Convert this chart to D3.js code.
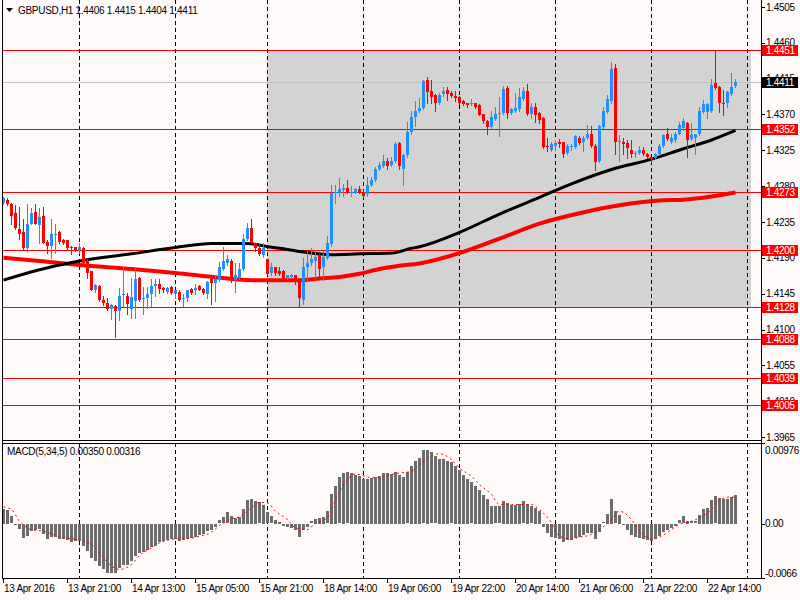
<!DOCTYPE html>
<html><head><meta charset="utf-8">
<script src="https://cdn.jsdelivr.net/npm/d3@7"></script>
<style>
body{margin:0;background:#fffafa;}
svg{display:block;}
text{font-family:"Liberation Sans",Arial,sans-serif;font-size:10px;fill:#000;letter-spacing:-0.3px;}
</style>
</head><body><svg id="c" width="800" height="600"></svg>
<script>
// ---------------- DATA ----------------
const symbolTitle = "GBPUSD,H1";
const lastOHLC = [1.4406, 1.4415, 1.4404, 1.4411];
const macdTitle = "MACD(5,34,5)";
const macdLast = [0.00350, 0.00316];

const opens = [
1.4259,1.4263,1.4258,1.4246,1.4226,1.4223,1.4202,1.4233,1.4247,1.4231,
1.4242,1.4210,1.4205,1.4219,1.4222,1.4213,1.4212,1.4204,1.4203,1.4200,
1.4202,1.4186,1.4173,1.4149,1.4155,1.4137,1.4133,1.4126,1.4130,1.4123,
1.4143,1.4142,1.4126,1.4136,1.4165,1.4139,1.4139,1.4144,1.4155,1.4157,
1.4152,1.4147,1.4154,1.4145,1.4147,1.4139,1.4139,1.4151,1.4150,1.4155,
1.4151,1.4145,1.4164,1.4159,1.4162,1.4176,1.4183,1.4186,1.4162,1.4165,
1.4176,1.4214,1.4228,1.4208,1.4202,1.4194,1.4188,1.4171,1.4178,1.4174,
1.4174,1.4165,1.4166,1.4168,1.4161,1.4137,1.4178,1.4183,1.4186,1.4193,
1.4178,1.4190,1.4207,1.4271,1.4271,1.4275,1.4278,1.4271,1.4272,1.4277,
1.4273,1.4270,1.4282,1.4288,1.4301,1.4305,1.4311,1.4306,1.4311,1.4334,
1.4302,1.4319,1.4348,1.4367,1.4374,1.4378,1.4413,1.4399,1.4394,1.4384,
1.4396,1.4401,1.4397,1.4393,1.4392,1.4387,1.4384,1.4383,1.4384,1.4382,
1.4370,1.4362,1.4354,1.4364,1.4371,1.4372,1.4403,1.4372,1.4374,1.4377,
1.4389,1.4399,1.4370,1.4379,1.4372,1.4365,1.4331,1.4325,1.4330,1.4335,
1.4335,1.4322,1.4329,1.4329,1.4341,1.4335,1.4340,1.4346,1.4331,1.4311,
1.4354,1.4373,1.4387,1.4428,1.4336,1.4336,1.4334,1.4326,1.4321,1.4322,
1.4326,1.4320,1.4316,1.4315,1.4320,1.4330,1.4345,1.4336,1.4338,1.4346,
1.4353,1.4359,1.4339,1.4340,1.4345,1.4373,1.4373,1.4374,1.4409,1.4404,
1.4385,1.4384,1.4396,1.4406];
const highs = [
1.4267,1.4265,1.4259,1.4256,1.4254,1.4239,1.4258,1.4252,1.4258,1.4253,
1.4254,1.4212,1.4239,1.4233,1.4224,1.4214,1.4213,1.4205,1.4204,1.4208,
1.4204,1.4188,1.4174,1.4157,1.4156,1.4142,1.4140,1.4132,1.4131,1.4152,
1.4178,1.4146,1.4165,1.4178,1.4166,1.4154,1.4154,1.4164,1.4164,1.4164,
1.4154,1.4154,1.4155,1.4150,1.4149,1.4145,1.4150,1.4152,1.4157,1.4156,
1.4152,1.4161,1.4165,1.4168,1.4185,1.4203,1.4194,1.4188,1.4183,1.4183,
1.4220,1.4234,1.4239,1.4209,1.4207,1.4208,1.4189,1.4183,1.4179,1.4178,
1.4175,1.4169,1.4170,1.4169,1.4162,1.4190,1.4199,1.4202,1.4200,1.4195,
1.4199,1.4218,1.4282,1.4281,1.4290,1.4283,1.4288,1.4280,1.4278,1.4280,
1.4275,1.4292,1.4292,1.4304,1.4310,1.4319,1.4315,1.4316,1.4336,1.4336,
1.4320,1.4360,1.4375,1.4387,1.4391,1.4413,1.4417,1.4413,1.4396,1.4397,
1.4404,1.4404,1.4399,1.4399,1.4393,1.4388,1.4385,1.4389,1.4385,1.4383,
1.4371,1.4363,1.4374,1.4379,1.4392,1.4406,1.4406,1.4378,1.4397,1.4403,
1.4404,1.4408,1.4385,1.4384,1.4373,1.4367,1.4340,1.4336,1.4338,1.4339,
1.4336,1.4333,1.4333,1.4344,1.4343,1.4343,1.4357,1.4355,1.4333,1.4357,
1.4379,1.4394,1.4436,1.4433,1.4344,1.4341,1.4338,1.4338,1.4324,1.4331,
1.4329,1.4322,1.4317,1.4322,1.4333,1.4346,1.4353,1.4346,1.4348,1.4360,
1.4365,1.4360,1.4359,1.4346,1.4379,1.4388,1.4384,1.4414,1.4450,1.4406,
1.4401,1.4399,1.4422,1.4415];
const lows = [
1.4258,1.4256,1.4233,1.4226,1.4214,1.4200,1.4199,1.4232,1.4232,1.4208,
1.4208,1.4196,1.4190,1.4196,1.4209,1.4207,1.4200,1.4195,1.4199,1.4196,
1.4183,1.4165,1.4149,1.4147,1.4136,1.4131,1.4125,1.4113,1.4090,1.4112,
1.4130,1.4120,1.4115,1.4115,1.4136,1.4120,1.4127,1.4130,1.4142,1.4146,
1.4147,1.4146,1.4145,1.4140,1.4136,1.4130,1.4136,1.4145,1.4145,1.4149,
1.4145,1.4140,1.4132,1.4136,1.4161,1.4175,1.4181,1.4160,1.4147,1.4164,
1.4175,1.4213,1.4208,1.4199,1.4193,1.4191,1.4169,1.4168,1.4168,1.4168,
1.4162,1.4164,1.4165,1.4157,1.4130,1.4132,1.4162,1.4181,1.4165,1.4164,
1.4162,1.4189,1.4205,1.4259,1.4268,1.4268,1.4271,1.4268,1.4271,1.4272,
1.4267,1.4268,1.4280,1.4287,1.4300,1.4304,1.4302,1.4305,1.4310,1.4301,
1.4281,1.4317,1.4346,1.4355,1.4373,1.4377,1.4385,1.4385,1.4374,1.4383,
1.4393,1.4388,1.4392,1.4387,1.4383,1.4382,1.4380,1.4382,1.4378,1.4369,
1.4359,1.4346,1.4353,1.4363,1.4343,1.4370,1.4365,1.4370,1.4373,1.4375,
1.4388,1.4369,1.4365,1.4360,1.4359,1.4328,1.4324,1.4324,1.4325,1.4329,
1.4317,1.4320,1.4325,1.4328,1.4333,1.4324,1.4339,1.4329,1.4300,1.4310,
1.4353,1.4372,1.4385,1.4321,1.4312,1.4321,1.4315,1.4316,1.4316,1.4321,
1.4319,1.4315,1.4310,1.4314,1.4319,1.4329,1.4338,1.4334,1.4336,1.4345,
1.4351,1.4316,1.4338,1.4321,1.4344,1.4372,1.4365,1.4373,1.4402,1.4373,
1.4369,1.4379,1.4394,1.4404];
const closes = [
1.4265,1.4258,1.4242,1.4227,1.4220,1.4202,1.4233,1.4246,1.4233,1.4241,
1.4209,1.4205,1.4220,1.4220,1.4210,1.4209,1.4202,1.4202,1.4200,1.4203,
1.4184,1.4171,1.4150,1.4156,1.4137,1.4133,1.4126,1.4131,1.4123,1.4142,
1.4144,1.4132,1.4141,1.4164,1.4137,1.4140,1.4145,1.4155,1.4157,1.4151,
1.4149,1.4152,1.4146,1.4149,1.4137,1.4140,1.4149,1.4146,1.4152,1.4150,
1.4146,1.4160,1.4159,1.4164,1.4178,1.4186,1.4188,1.4161,1.4168,1.4176,
1.4214,1.4227,1.4209,1.4202,1.4195,1.4202,1.4170,1.4178,1.4171,1.4170,
1.4164,1.4168,1.4169,1.4164,1.4139,1.4179,1.4184,1.4189,1.4191,1.4176,
1.4191,1.4208,1.4272,1.4273,1.4276,1.4278,1.4272,1.4273,1.4276,1.4273,
1.4268,1.4282,1.4288,1.4301,1.4307,1.4312,1.4305,1.4311,1.4333,1.4305,
1.4319,1.4348,1.4367,1.4374,1.4378,1.4412,1.4398,1.4392,1.4384,1.4394,
1.4399,1.4396,1.4393,1.4391,1.4384,1.4383,1.4382,1.4384,1.4379,1.4369,
1.4362,1.4354,1.4367,1.4370,1.4372,1.4402,1.4372,1.4377,1.4378,1.4392,
1.4399,1.4370,1.4379,1.4369,1.4363,1.4329,1.4329,1.4333,1.4334,1.4333,
1.4321,1.4331,1.4331,1.4343,1.4334,1.4341,1.4345,1.4330,1.4310,1.4355,
1.4374,1.4389,1.4427,1.4335,1.4337,1.4333,1.4328,1.4321,1.4322,1.4326,
1.4320,1.4316,1.4314,1.4321,1.4331,1.4344,1.4339,1.4341,1.4346,1.4357,
1.4362,1.4338,1.4344,1.4345,1.4374,1.4383,1.4383,1.4407,1.4403,1.4384,
1.4384,1.4398,1.4404,1.4411];

// moving averages (sampled at bar indices)
const maBlackBars = [0,9,19,32,43,52,61,66,69,74,82,89,97,102,104,114,124,134,142,152,162,170,177,183];
const maBlackVals = [1.4162,1.4175,1.4186,1.4195,1.4203,1.4208,1.4208,1.4204,1.4202,1.4198,1.4194,1.4195,1.4196,1.4202,1.4204,1.4222,1.4245,1.4266,1.4283,1.4301,1.4314,1.4327,1.4338,1.4350];
const maRedBars = [0,9,19,32,43,54,62,66,74,79,84,89,94,99,104,114,124,134,144,154,164,170,177,183];
const maRedVals = [1.4190,1.4186,1.4181,1.4176,1.4171,1.4165,1.4162,1.4162,1.4162,1.4164,1.4166,1.4170,1.4176,1.4180,1.4183,1.4196,1.4214,1.4233,1.4246,1.4256,1.4262,1.4263,1.4267,1.4272];

// MACD histogram per bar
const macdHist = [
0.00181,0.00169,0.00089,-0.00012,-0.00064,-0.00165,-0.00145,-0.00081,-0.00073,-0.00064,
-0.00125,-0.00181,-0.00161,-0.00161,-0.00181,-0.00181,-0.00193,-0.00214,-0.00202,-0.00202,
-0.00266,-0.00322,-0.00407,-0.00443,-0.00504,-0.00548,-0.00588,-0.00588,-0.00588,-0.00536,
-0.00496,-0.00492,-0.00443,-0.00383,-0.00355,-0.00343,-0.00314,-0.00274,-0.00262,-0.00222,
-0.00202,-0.00193,-0.00185,-0.00185,-0.00202,-0.00193,-0.00185,-0.00173,-0.00153,-0.00133,
-0.00125,-0.00081,-0.00073,-0.00040,0.00040,0.00077,0.00137,0.00097,0.00069,0.00081,
0.00181,0.00290,0.00298,0.00278,0.00258,0.00230,0.00137,0.00089,0.00048,0.00020,
-0.00024,-0.00040,-0.00052,-0.00073,-0.00153,-0.00073,-0.00032,0.00028,0.00060,0.00069,
0.00081,0.00149,0.00359,0.00459,0.00560,0.00613,0.00621,0.00613,0.00592,0.00580,
0.00540,0.00540,0.00552,0.00564,0.00580,0.00613,0.00613,0.00600,0.00629,0.00592,
0.00564,0.00621,0.00701,0.00762,0.00794,0.00887,0.00895,0.00866,0.00814,0.00786,
0.00782,0.00762,0.00742,0.00701,0.00653,0.00592,0.00544,0.00500,0.00459,0.00411,
0.00351,0.00298,0.00218,0.00210,0.00210,0.00278,0.00250,0.00230,0.00230,0.00242,
0.00270,0.00242,0.00210,0.00189,0.00157,-0.00040,-0.00105,-0.00153,-0.00165,-0.00185,
-0.00214,-0.00193,-0.00193,-0.00165,-0.00153,-0.00133,-0.00105,-0.00105,-0.00181,-0.00093,
0.00016,0.00121,0.00302,0.00149,0.00109,-0.00012,-0.00073,-0.00133,-0.00161,-0.00173,
-0.00185,-0.00193,-0.00206,-0.00185,-0.00145,-0.00093,-0.00073,-0.00052,-0.00024,0.00040,
0.00089,0.00036,0.00028,0.00028,0.00109,0.00181,0.00189,0.00290,0.00330,0.00310,
0.00298,0.00298,0.00322,0.00350];
const sigBars = [0,2,4,7,10,14,19,22,24,27,29,32,34,37,39,42,44,47,49,52,54,57,59,62,64,66,68,71,73,76,78,81,83,86,88,91,93,96,98,102,104,107,109,112,114,117,119,122,124,127,129,132,134,137,139,142,144,147,149,152,154,157,159,162,164,167,169,172,174,177,179,182,183];
const sigVals = [0.00202,0.00169,0.00028,-0.00073,-0.00093,-0.00161,-0.00202,-0.00254,-0.00355,-0.00516,-0.00556,-0.00496,-0.00387,-0.00294,-0.00234,-0.00193,-0.00185,-0.00177,-0.00153,-0.00105,-0.00024,0.00056,0.00081,0.00189,0.00258,0.00250,0.00149,0.00048,-0.00052,-0.00073,0.00008,0.00069,0.00290,0.00532,0.00600,0.00564,0.00552,0.00580,0.00605,0.00633,0.00713,0.00822,0.00846,0.00774,0.00673,0.00572,0.00472,0.00351,0.00230,0.00230,0.00230,0.00230,0.00169,0.00008,-0.00153,-0.00185,-0.00165,-0.00133,-0.00073,0.00048,0.00149,0.00048,-0.00093,-0.00185,-0.00165,-0.00073,-0.00012,0.00028,0.00069,0.00169,0.00290,0.00322,0.00316];

// horizontal levels, zone, axis ticks
const levels = [1.4451, 1.4352, 1.4273, 1.4200, 1.4128, 1.4088, 1.4039, 1.4005];
const zoneBars = [66, 187];
const zonePrices = [1.4451, 1.4128];
const priceTicks = [1.4505,1.4460,1.4415,1.4370,1.4325,1.4280,1.4235,1.4190,1.4145,1.4100,1.4055,1.4010,1.3965];
const macdTicks = [0.00976, 0.00, -0.0066];
const macdTickLabels = ["0.00976", "0.00", "-0.0066"];
const gridBars = [19, 43, 66, 90, 114, 138, 162, 186];
const timeBars = [0,16,32,48,64,80,96,112,128,144,160,176];
const timeLabels = ["13 Apr 2016","13 Apr 21:00","14 Apr 13:00","15 Apr 05:00","15 Apr 21:00","18 Apr 14:00","19 Apr 06:00","19 Apr 22:00","20 Apr 14:00","21 Apr 06:00","21 Apr 22:00","22 Apr 14:00"];

// ---------------- DRAW ----------------
const svg = d3.select("#c");
const BG = "#fffafa", BULL = "#1e90ff", BEAR = "#ff0000";
const PL = 2, PR = 761, MT = 0, MB = 440, ST = 443, SB = 578;

const x = d3.scaleLinear().domain([0, 186]).range([3, 747]);
const y = d3.scaleLinear().domain([1.3965, 1.4505]).range([437, 7]);
const ym = d3.scaleLinear().domain([-0.0066, 0.00976]).range([SB, ST]);

svg.append("rect").attr("width", 800).attr("height", 600).attr("fill", BG);

const defs = svg.append("defs");
defs.append("clipPath").attr("id", "cm").append("rect").attr("x", PL+1).attr("y", MT).attr("width", PR-PL-1).attr("height", MB-MT);
defs.append("clipPath").attr("id", "cs").append("rect").attr("x", PL+1).attr("y", ST+1).attr("width", PR-PL-1).attr("height", SB-ST-1);

const gm = svg.append("g").attr("clip-path", "url(#cm)");
const gs = svg.append("g").attr("clip-path", "url(#cs)");

// zone rectangle
gm.append("rect")
  .attr("x", x(zoneBars[0])).attr("width", x(zoneBars[1]) - x(zoneBars[0]))
  .attr("y", Math.round(y(zonePrices[0]))).attr("height", Math.round(y(zonePrices[1])) - Math.round(y(zonePrices[0])))
  .attr("fill", "#d3d3d3");

// grid
[[gm, MT, MB], [gs, ST, SB]].forEach(([g, a, b]) => {
  g.selectAll(null).data(gridBars).join("line")
    .attr("x1", d => x(d) + 0.5).attr("x2", d => x(d) + 0.5)
    .attr("y1", a).attr("y2", b)
    .attr("stroke", "#000").attr("stroke-width", 1).attr("stroke-dasharray", "4,3");
});

// level lines
gm.selectAll(null).data(levels).join("line")
  .attr("x1", PL).attr("x2", PR)
  .attr("y1", d => Math.round(y(d)) + 0.5).attr("y2", d => Math.round(y(d)) + 0.5)
  .attr("stroke", BEAR).attr("stroke-width", 1);

// current price line
gm.append("line").attr("x1", PL).attr("x2", PR)
  .attr("y1", Math.round(y(lastOHLC[3])) + 0.5).attr("y2", Math.round(y(lastOHLC[3])) + 0.5)
  .attr("stroke", "#c0c0c0");

// moving averages
const lineMain = d3.line().x(d => x(d[0]) + 0.5).y(d => y(d[1])).curve(d3.curveMonotoneX);
gm.append("path").datum(maRedBars.map((b, i) => [b, maRedVals[i]]))
  .attr("d", lineMain).attr("fill", "none").attr("stroke", BEAR).attr("stroke-width", 4);
gm.append("path").datum(maBlackBars.map((b, i) => [b, maBlackVals[i]]))
  .attr("d", lineMain).attr("fill", "none").attr("stroke", "#000").attr("stroke-width", 3);

// candles
const idx = d3.range(opens.length);
const col = i => closes[i] >= opens[i] ? BULL : BEAR;
gm.selectAll(null).data(idx).join("line")
  .attr("x1", i => x(i) + 0.5).attr("x2", i => x(i) + 0.5)
  .attr("y1", i => Math.round(y(highs[i]))).attr("y2", i => Math.round(y(lows[i])) + 1)
  .attr("stroke", col).attr("stroke-width", 1).attr("shape-rendering", "crispEdges");
gm.selectAll(null).data(idx).join("rect")
  .attr("x", i => x(i) - 1).attr("width", 3)
  .attr("y", i => Math.round(y(Math.max(opens[i], closes[i]))))
  .attr("height", i => Math.max(1, Math.round(y(Math.min(opens[i], closes[i]))) - Math.round(y(Math.max(opens[i], closes[i])))))
  .attr("fill", col).attr("shape-rendering", "crispEdges");

// MACD histogram
gs.selectAll(null).data(idx).join("rect")
  .attr("x", i => x(i) - 1).attr("width", 3)
  .attr("y", i => Math.round(Math.min(ym(0), ym(macdHist[i]))))
  .attr("height", i => Math.max(1, Math.round(Math.abs(ym(macdHist[i]) - ym(0)))))
  .attr("fill", "#6b6b6b").attr("shape-rendering", "crispEdges");
// signal
gs.append("path").datum(sigBars.map((b, i) => [b, sigVals[i]]))
  .attr("d", d3.line().x(d => x(d[0]) + 0.5).y(d => ym(d[1])).curve(d3.curveMonotoneX))
  .attr("fill", "none").attr("stroke", BEAR).attr("stroke-width", 1).attr("stroke-dasharray", "2,3");

// frames
const fr = svg.append("g").attr("stroke", "#000").attr("stroke-width", 1).attr("shape-rendering", "crispEdges");
fr.append("line").attr("x1", PL + 0.5).attr("x2", PL + 0.5).attr("y1", 0).attr("y2", SB + 1);
fr.append("line").attr("x1", PR + 0.5).attr("x2", PR + 0.5).attr("y1", 0).attr("y2", SB + 1);
fr.append("line").attr("x1", PL).attr("x2", PR + 1).attr("y1", MB + 0.5).attr("y2", MB + 0.5);
fr.append("line").attr("x1", PL).attr("x2", PR + 1).attr("y1", ST + 0.5).attr("y2", ST + 0.5);
fr.append("line").attr("x1", PL).attr("x2", PR + 1).attr("y1", SB + 0.5).attr("y2", SB + 0.5);

// price axis
const ax = svg.append("g");
ax.selectAll(null).data(priceTicks).join("line")
  .attr("x1", PR).attr("x2", PR + 4).attr("y1", d => Math.round(y(d)) + 0.5).attr("y2", d => Math.round(y(d)) + 0.5)
  .attr("stroke", "#000");
ax.selectAll(null).data(priceTicks).join("text")
  .attr("x", PR + 5).attr("y", d => y(d)).attr("dy", "0.35em")
  .text(d => d.toFixed(4));

// level labels
levels.forEach(v => {
  const yy = Math.round(y(v));
  ax.append("rect").attr("x", PR + 1).attr("y", yy - 5).attr("width", 36).attr("height", 11).attr("fill", BEAR);
  ax.append("text").attr("x", PR + 5).attr("y", yy).attr("dy", "0.35em").style("fill", "#fff").text(v.toFixed(4));
});
{
  const yy = Math.round(y(lastOHLC[3]));
  ax.append("rect").attr("x", PR + 1).attr("y", yy - 5).attr("width", 36).attr("height", 11).attr("fill", "#000");
  ax.append("text").attr("x", PR + 5).attr("y", yy).attr("dy", "0.35em").style("fill", "#fff").text(lastOHLC[3].toFixed(4));
}

// MACD axis
macdTicks.forEach((v, i) => {
  const yy = Math.round(ym(v));
  ax.append("line").attr("x1", PR).attr("x2", PR + 4).attr("y1", yy + 0.5).attr("y2", yy + 0.5).attr("stroke", "#000");
  const ty = Math.max(ST + 7, Math.min(SB - 5, ym(v)));
  ax.append("text").attr("x", PR + 4).attr("y", ty).attr("dy", "0.35em").text(macdTickLabels[i]);
});

// time axis
ax.selectAll(null).data(timeBars).join("line")
  .attr("x1", d => x(d) + 0.5).attr("x2", d => x(d) + 0.5).attr("y1", SB).attr("y2", SB + 5)
  .attr("stroke", "#000");
ax.selectAll(null).data(timeBars).join("text")
  .attr("x", (d) => x(d) + 1).attr("y", 592)
  .text((d, i) => timeLabels[i]);

// titles
svg.append("path").attr("d", "M6,8 L13,8 L9.5,12 Z").attr("fill", "#000");
svg.append("text").attr("x", 18).attr("y", 14)
  .text(symbolTitle + " " + lastOHLC.map(v => v.toFixed(4)).join(" "));
svg.append("text").attr("x", 7).attr("y", 455)
  .text(macdTitle + " " + macdLast.map(v => v.toFixed(5)).join(" "));
</script>
</body></html>
